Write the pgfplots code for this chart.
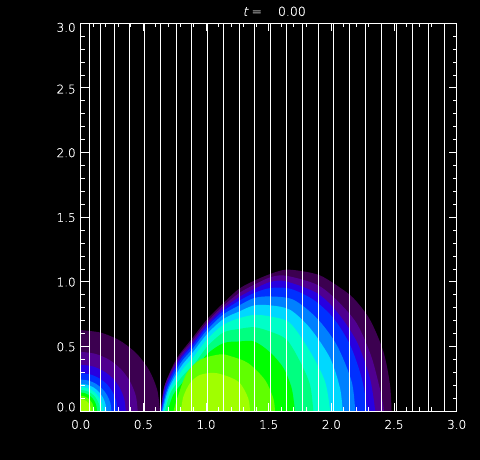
\documentclass[border=0pt]{standalone}
\usepackage{pgfplots}
\usepackage{fontspec}
\pgfplotsset{compat=1.18}
\setmainfont[FakeBold=0.5]{DejaVu Sans ExtraLight}
\newfontfamily\slantfont[FakeSlant=0.25,FakeBold=0.5]{DejaVu Sans ExtraLight}
\definecolor{c1}{HTML}{3C0050}
\definecolor{c2}{HTML}{500090}
\definecolor{c3}{HTML}{2800E0}
\definecolor{c4}{HTML}{0030FF}
\definecolor{c5}{HTML}{0080FF}
\definecolor{c6}{HTML}{00D8FF}
\definecolor{c7}{HTML}{00FFC8}
\definecolor{c8}{HTML}{00FF80}
\definecolor{c9}{HTML}{00FF00}
\definecolor{c10}{HTML}{60FF00}
\definecolor{c11}{HTML}{A0FF00}
\pgfplotsset{band/.style={draw=none,fill=#1,smooth,tension=0.5,no markers,forget plot}}
\begin{document}
\begin{tikzpicture}[x=1pt,y=1pt]
\fill[black] (0,0) rectangle (480,460);
\path[use as bounding box] (0,0) rectangle (480,460);
\begin{axis}[
  at={(80.7pt,48.7pt)},anchor=south west,
  scale only axis,width=376pt,height=388pt,
  xmin=0,xmax=3,ymin=0,ymax=3,
  axis line style={white,line width=1pt},
  axis background/.style={fill=black},
  axis on top,
  xtick={0,0.5,1,1.5,2,2.5,3},ytick={0,0.5,1,1.5,2,2.5,3},
  minor x tick num=4,minor y tick num=4,
  tick align=inside,
  major tick length=8pt,minor tick length=4pt,
  every tick/.style={white,line width=1pt},
  minor tick style={white,line width=1pt},
  xticklabels={0.0,0.5,1.0,1.5,2.0,2.5,3.0},
  yticklabels={\raisebox{4.5pt}[0pt][0pt]{0.0},0.5,1.0,1.5,2.0,\raisebox{-1pt}[0pt][0pt]{2.5},\raisebox{-4pt}[0pt][0pt]{3.0}},
  tick label style={white,font=\fontsize{12}{12}\selectfont},
  x tick label style={text height=9pt,text depth=0pt,yshift=-5pt},
  y tick label style={text height=9pt,text depth=0pt,xshift=-1.5pt},
  title={{\slantfont t}\hspace{4pt}=\hspace{16pt}0.00},
  title style={white,font=\fontsize{12.5}{13}\selectfont,at={(0.5,1)},anchor=center,xshift=5.5pt,yshift=6pt},
]
% right bump
\addplot[band=c1] coordinates {(.64,0)(.665,.18)(.72,.32)(.78,.43)(.886,.56)(1.01,.713)(1.138,.837)(1.265,.948)(1.385,1.01)(1.513,1.062)(1.635,1.095)(1.776,1.082)(1.909,1.051)(2.042,.974)(2.175,.876)(2.308,.708)(2.415,.462)(2.468,.204)(2.48,0)} \closedcycle;
\addplot[band=c2] coordinates {(.64,0)(.67,.2)(.78,.415)(.886,.54)(1.01,.692)(1.138,.816)(1.265,.915)(1.385,.979)(1.513,1.036)(1.635,1.049)(1.883,.98)(2.042,.86)(2.202,.68)(2.32,.42)(2.40,.12)(2.42,0)} \closedcycle;
\addplot[band=c3] coordinates {(.642,0)(.675,.19)(.785,.40)(.89,.525)(1.01,.674)(1.138,.795)(1.265,.884)(1.385,.946)(1.513,1.0)(1.635,1.005)(1.883,.915)(2.042,.772)(2.202,.54)(2.308,.256)(2.35,0)} \closedcycle;
\addplot[band=c4] coordinates {(.644,0)(.68,.18)(.79,.39)(.89,.505)(1.01,.656)(1.138,.775)(1.265,.855)(1.385,.915)(1.513,.953)(1.67,.948)(1.856,.863)(2.016,.721)(2.149,.514)(2.242,.256)(2.29,0)} \closedcycle;
\addplot[band=c5] coordinates {(.647,0)(.69,.17)(.795,.37)(.89,.48)(1.01,.63)(1.138,.749)(1.265,.819)(1.385,.876)(1.513,.888)(1.696,.863)(1.883,.721)(2.042,.514)(2.162,.229)(2.19,0)} \closedcycle;
\addplot[band=c6] coordinates {(.654,0)(.70,.17)(.80,.345)(.89,.45)(1.01,.599)(1.138,.713)(1.265,.772)(1.385,.819)(1.513,.819)(1.67,.785)(1.83,.643)(1.99,.411)(2.069,.178)(2.09,0)} \closedcycle;
\addplot[band=c7] coordinates {(.665,0)(.71,.16)(.81,.32)(.90,.42)(1.01,.558)(1.138,.669)(1.265,.72)(1.385,.745)(1.513,.733)(1.67,.682)(1.83,.462)(1.95,.229)(1.99,0)} \closedcycle;
\addplot[band=c8] coordinates {(.673,0)(.72,.15)(.82,.28)(.91,.37)(1.01,.501)(1.138,.609)(1.265,.637)(1.385,.65)(1.51,.617)(1.644,.553)(1.75,.385)(1.83,.204)(1.856,0)} \closedcycle;
\addplot[band=c9] coordinates {(.694,0)(.74,.13)(.83,.24)(.93,.34)(1.01,.444)(1.138,.527)(1.265,.54)(1.385,.54)(1.51,.457)(1.617,.336)(1.683,.18)(1.71,0)} \closedcycle;
\addplot[band=c10] coordinates {(.74,0)(.77,.1)(.846,.295)(.952,.398)(1.111,.44)(1.2,.425)(1.337,.372)(1.47,.243)(1.537,.1)(1.55,0)} \closedcycle;
\addplot[band=c11] coordinates {(.80,0)(.819,.113)(.872,.217)(.952,.281)(1.085,.295)(1.258,.229)(1.337,.1)(1.35,0)} \closedcycle;
% left bump
\addplot[band=c1] coordinates {(0,.628)(.164,.607)(.317,.544)(.448,.444)(.548,.314)(.611,.163)(.633,0)} \closedcycle;
\addplot[band=c2] coordinates {(0,.46)(.118,.444)(.228,.398)(.322,.325)(.394,.23)(.44,.119)(.455,0)} \closedcycle;
\addplot[band=c3] coordinates {(0,.36)(.093,.348)(.18,.312)(.255,.255)(.312,.18)(.348,.093)(.36,0)} \closedcycle;
\addplot[band=c4] coordinates {(0,.295)(.076,.285)(.148,.255)(.209,.209)(.255,.148)(.285,.076)(.295,0)} \closedcycle;
\addplot[band=c5] coordinates {(0,.245)(.063,.237)(.123,.212)(.173,.173)(.212,.122)(.237,.063)(.245,0)} \closedcycle;
\addplot[band=c6] coordinates {(0,.212)(.053,.205)(.103,.184)(.145,.15)(.178,.106)(.198,.055)(.205,0)} \closedcycle;
\addplot[band=c7] coordinates {(0,.188)(.046,.182)(.089,.163)(.126,.133)(.154,.094)(.172,.049)(.178,0)} \closedcycle;
\addplot[band=c8] coordinates {(0,.165)(.04,.159)(.078,.143)(.11,.117)(.134,.083)(.15,.043)(.155,0)} \closedcycle;
\addplot[band=c9] coordinates {(0,.145)(.034,.14)(.065,.126)(.092,.103)(.113,.073)(.126,.038)(.13,0)} \closedcycle;
\addplot[band=c10] coordinates {(0,.12)(.028,.116)(.054,.104)(.076,.085)(.094,.06)(.104,.031)(.108,0)} \closedcycle;
\addplot[band=c11] coordinates {(0,.093)(.022,.09)(.043,.081)(.06,.066)(.074,.047)(.082,.024)(.085,0)} \closedcycle;
% white vertical lines
\addplot[ycomb,white,line width=1.2pt,no markers,forget plot] coordinates {
(.069,3)(.156,3)(.268,3)(.388,3)(.507,3)(.635,3)(.763,3)(.882,3)(1.010,3)(1.138,3)(1.265,3)(1.385,3)
(1.513,3)(1.640,3)(1.768,3)(1.896,3)(2.015,3)(2.143,3)(2.271,3)(2.398,3)(2.518,3)(2.646,3)(2.773,3)(2.901,3)};
\end{axis}
\end{tikzpicture}
\end{document}
